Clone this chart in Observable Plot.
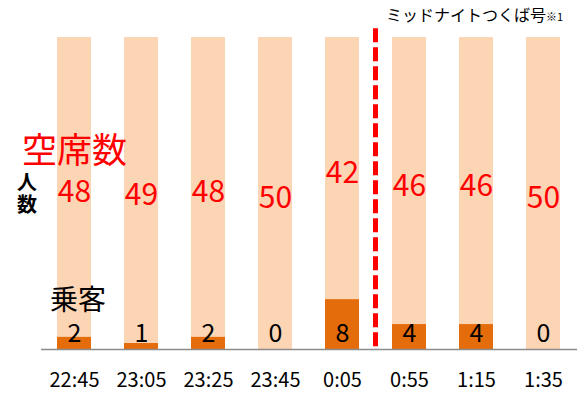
<!DOCTYPE html>
<html>
<head>
<meta charset="utf-8">
<script src="https://cdn.jsdelivr.net/npm/d3@7"></script>
<script src="https://cdn.jsdelivr.net/npm/@observablehq/plot@0.6"></script>
<style>
  html, body { margin: 0; padding: 0; background: #fff; }
  #wrap { position: relative; width: 587px; height: 399px; overflow: hidden; font-family: "Noto Sans CJK JP", "Noto Sans", sans-serif; }
  #wrap svg { position: absolute; left: 0; top: 0; }
  .ann { position: absolute; white-space: nowrap; line-height: 1; }
</style>
</head>
<body>
<div id="wrap"></div>
<script>
const times = ["22:45", "23:05", "23:25", "23:45", "0:05", "0:55", "1:15", "1:35"];
const passengers = [2, 1, 2, 0, 8, 4, 4, 0];
const vacant = [48, 49, 48, 50, 42, 46, 46, 50];
const types = ["乗客", "空席数"];
const dividerAfter = "0:05";

const data = times.flatMap((t, i) => [
  {time: t, type: types[0], value: passengers[i], i},
  {time: t, type: types[1], value: vacant[i], i}
]);
const pData = data.filter(d => d.type === types[0]);
const vData = data.filter(d => d.type === types[1]);

const chart = Plot.plot({
  width: 587,
  height: 399,
  marginLeft: 41,
  marginRight: 10,
  marginTop: 37,
  marginBottom: 50,
  style: {fontFamily: "'Noto Sans CJK JP', 'Noto Sans', sans-serif", background: "transparent"},
  x: {domain: times, paddingInner: 0.49, paddingOuter: 0.245, label: null},
  y: {domain: [0, 50], axis: null},
  color: {domain: types, range: ["#E46C0A", "#FCD5B5"]},
  marks: [
    Plot.barY(data, {x: "time", y: "value", fill: "type", order: types}),
    Plot.ruleY([0], {stroke: "#8c8c8c", strokeWidth: 1.5}),
    Plot.ruleX([dividerAfter], {dx: 33, y1: 51.4, y2: 0, stroke: "#FF0000", strokeWidth: 5, strokeDasharray: "14,5"}),
    Plot.text(vData, {x: "time", y: d => passengers[d.i] + d.value / 2, text: d => String(d.value), fill: "#FF0000", fontSize: 30, dy: 5}),
    Plot.text(pData, {x: "time", y: () => 2, text: d => String(d.value), fill: "#000", fontSize: 25, dy: -3}),
    Plot.axisX({tickSize: 0, tickPadding: 23, fontSize: 20, fill: "#000", label: null})
  ]
});
const wrap = document.getElementById("wrap");
wrap.appendChild(chart);

function ann(html, css) {
  const s = document.createElement("div");
  s.className = "ann";
  s.innerHTML = html;
  Object.assign(s.style, css);
  wrap.appendChild(s);
}
ann("空席数", {left: "22px", top: "130px", fontSize: "35px", color: "#FF0000"});
ann("人<br>数", {left: "17px", top: "171px", fontSize: "20px", fontWeight: "bold", color: "#000", lineHeight: "1.1"});
ann("乗客", {left: "50px", top: "284px", fontSize: "28px", color: "#000"});
ann("ミッドナイトつくば号<span style='font-size:11px'>※1</span>", {left: "386px", top: "6px", fontSize: "16px", color: "#000"});
</script>
</body>
</html>
